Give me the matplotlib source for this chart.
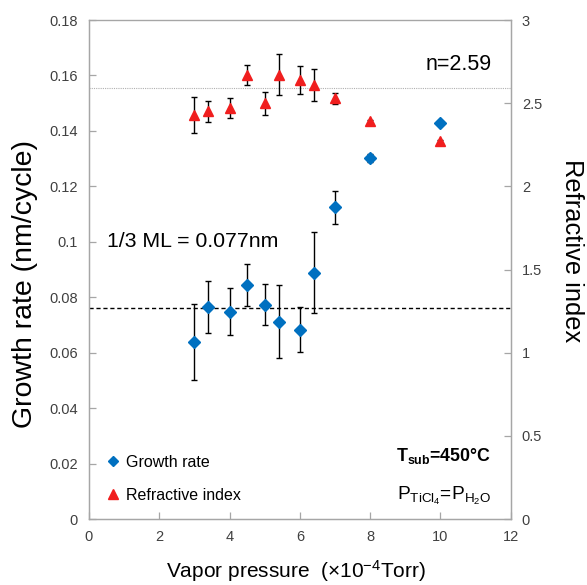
import numpy as np
import matplotlib
matplotlib.use('Agg')
import matplotlib.pyplot as plt
from matplotlib.lines import Line2D

plt.rcParams['font.family'] = ['Liberation Sans', 'DejaVu Sans']
plt.rcParams['mathtext.fontset'] = 'custom'
plt.rcParams['mathtext.rm'] = 'Liberation Sans'
plt.rcParams['mathtext.bf'] = 'Liberation Sans:bold'
plt.rcParams['mathtext.it'] = 'Liberation Sans:italic'

# vapor pressure (x1e-4 Torr)
pressure = [3, 3.4, 4, 4.5, 5, 5.4, 6, 6.4, 7, 8, 10]

# growth rate (nm/cycle) and its error
growth = [0.0640, 0.0766, 0.0747, 0.0844, 0.0773, 0.0712, 0.0683, 0.0888, 0.1124, 0.1303, 0.1430]
growth_err = [0.0137, 0.0094, 0.0085, 0.0076, 0.0074, 0.0132, 0.0082, 0.0146, 0.0060, 0.0015, 0.0]

# refractive index and its error
ref_index = [2.43, 2.45, 2.47, 2.67, 2.50, 2.67, 2.64, 2.61, 2.53, 2.39, 2.27]
ref_err = [0.11, 0.065, 0.061, 0.06, 0.07, 0.123, 0.084, 0.098, 0.032, 0.01, 0.01]

ml_third = 0.076
n_bulk = 2.59

blue = '#0070C0'
red = '#F01E1E'
gray = '#A6A6A6'
tick_color = '#404040'

fig = plt.figure(figsize=(5.87, 5.85), dpi=100)
ax = fig.add_axes([0.1516, 0.1128, 0.7184, 0.853])
ax2 = ax.twinx()

ax.axhline(ml_third, color='black', ls=(0, (3, 2)), lw=1.0, zorder=1)
ax2.axhline(n_bulk, color='#B0B0B0', ls=(0, (1, 1)), lw=0.8, zorder=1)

ax.errorbar(pressure, growth, yerr=growth_err, fmt='D', color=blue, ms=6,
            ecolor='black', elinewidth=1.0, capsize=2.3, capthick=1.0, zorder=3)
ax2.errorbar(pressure, ref_index, yerr=ref_err, fmt='^', color=red, ms=7.5,
             ecolor='black', elinewidth=1.0, capsize=2.3, capthick=1.0, zorder=3)

ax.set_xlim(0, 12)
ax.set_ylim(0, 0.18)
ax2.set_ylim(0, 3)
ax.set_xticks(np.arange(0, 13, 2))
ax.set_yticks(np.arange(0, 0.181, 0.02))
ax.set_yticklabels(['0', '0.02', '0.04', '0.06', '0.08', '0.1', '0.12', '0.14', '0.16', '0.18'])
ax2.set_yticks([0, 0.5, 1, 1.5, 2, 2.5, 3])
ax2.set_yticklabels(['0', '0.5', '1', '1.5', '2', '2.5', '3'])

for a in (ax, ax2):
    for s in a.spines.values():
        s.set_color(gray)
        s.set_linewidth(0.9)
    a.tick_params(direction='in', length=5, width=0.9, color=gray,
                  labelcolor=tick_color, labelsize=10.5, pad=8)
ax.spines['top'].set_color('#D0D0D0')

ax.set_xlabel('Vapor pressure  (×10$^{-4}$Torr)', fontsize=15)
ax.xaxis.set_label_coords(0.492, -0.078)
ax.set_ylabel('Growth rate (nm/cycle)', fontsize=20.5)
ax.yaxis.set_label_coords(-0.121, 0.471)
ax2.set_ylabel('Refractive index', fontsize=18.3, rotation=270, va='center')
ax2.yaxis.set_label_coords(1.145, 0.537)

ax.text(0.956, 0.91, 'n=2.59', transform=ax.transAxes, fontsize=15.5,
        ha='right', va='center')
ax.text(0.043, 0.557, '1/3 ML = 0.077nm', transform=ax.transAxes, fontsize=15.3,
        ha='left', va='center')
ax.text(0.954, 0.117, r'$\mathbf{T_{sub}}$=450°C', transform=ax.transAxes,
        fontsize=12.8, fontweight='bold', ha='right', va='baseline')
ax.text(0.954, 0.038, r'$\mathrm{P_{TiCl_4}}$=$\mathrm{P_{H_2O}}$',
        transform=ax.transAxes, fontsize=13.8, ha='right', va='baseline')

handles = [
    Line2D([], [], marker='D', color=blue, ls='none', ms=5),
    Line2D([], [], marker='^', color=red, ls='none', ms=6.5),
]
ax.legend(handles, ['Growth rate', 'Refractive index'], loc='lower left',
          bbox_to_anchor=(0.008, 0.004), frameon=False, fontsize=11.5,
          handlelength=0.8, handletextpad=0.4, labelspacing=1.1)

fig.savefig('out.png', dpi=100)
plt.close(fig)
